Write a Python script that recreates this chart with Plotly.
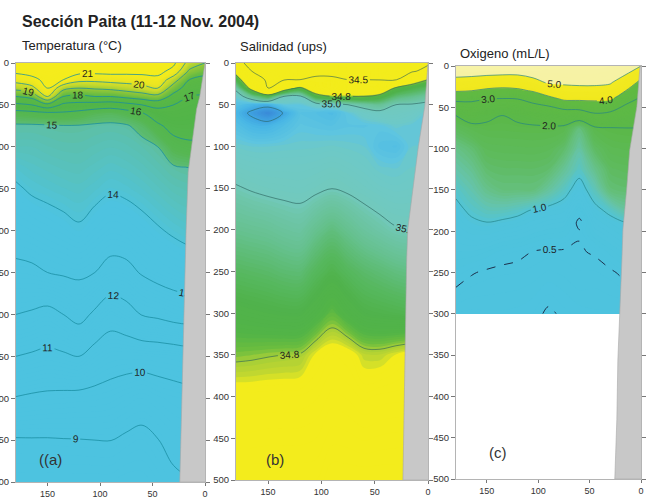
import numpy as np
import plotly.graph_objects as go

# ---------------- data ----------------
stations_km = [180, 165, 150, 135, 120, 105, 90, 75, 60, 45, 30, 15, 0]
depths_m = [0, 10, 20, 30, 40, 50, 60, 75, 100, 125, 150, 200, 250, 300, 350, 400, 450, 500]
oxy_depths_m = [0, 10, 20, 30, 40, 50, 60, 75, 100, 125, 150, 175, 190, 200, 225, 250, 275, 300]

# temperature (deg C), one profile per station (values at depths_m)
temp_profiles = [
    [22.0, 21.2, 20.4, 19.3, 18.0, 16.8, 15.6, 14.9, 14.6, 14.2, 13.9, 13.4, 12.8, 12.0, 11.0, 9.96, 8.94, 8.5],
    [22.0, 21.4, 20.7, 19.7, 18.3, 17.0, 15.7, 14.9, 14.6, 14.35, 14.1, 13.5, 12.85, 11.9, 10.9, 9.88, 8.95, 8.5],
    [22.0, 21.7, 21.3, 21.0, 20.0, 17.7, 15.8, 14.93, 14.69, 14.44, 14.2, 13.63, 13.0, 11.75, 10.8, 9.83, 8.95, 8.5],
    [22.0, 21.5, 21.0, 19.3, 18.0, 16.8, 15.86, 14.97, 14.75, 14.52, 14.29, 13.76, 13.09, 12.0, 10.88, 9.8, 8.97, 8.5],
    [22.0, 21.33, 20.29, 19.0, 17.78, 16.67, 15.71, 14.96, 14.76, 14.56, 14.35, 13.91, 13.15, 12.3, 11.0, 9.76, 8.98, 8.5],
    [22.0, 21.29, 20.25, 19.11, 18.0, 16.57, 15.45, 14.91, 14.68, 14.45, 14.23, 13.67, 13.0, 11.86, 10.62, 9.74, 9.0, 8.5],
    [22.0, 21.33, 20.38, 19.22, 18.0, 16.43, 15.36, 14.88, 14.61, 14.34, 14.08, 13.46, 12.71, 11.4, 10.4, 9.67, 9.01, 8.5],
    [22.0, 21.29, 20.45, 19.44, 18.25, 16.67, 15.57, 14.93, 14.67, 14.42, 14.16, 13.53, 12.76, 11.65, 10.36, 9.52, 8.88, 8.4],
    [22.0, 21.29, 20.54, 19.67, 18.5, 17.0, 15.91, 15.23, 14.8, 14.55, 14.3, 13.73, 13.07, 12.04, 10.38, 9.38, 8.79, 8.4],
    [21.8, 21.3, 20.71, 20.0, 18.71, 17.29, 16.56, 15.83, 15.0, 14.73, 14.47, 13.93, 13.31, 12.17, 10.41, 9.55, 8.98, 8.6],
    [21.2, 20.67, 19.45, 18.5, 17.67, 17.0, 16.74, 16.34, 15.6, 14.92, 14.65, 14.1, 13.47, 12.36, 10.46, 9.67, 9.23, 8.85],
    [19.6, 18.83, 18.0, 17.5, 17.0, 16.82, 16.64, 16.36, 15.83, 15.0, 14.74, 14.23, 13.58, 12.45, 10.57, 9.73, 9.33, 8.95],
    [19.0, 18.3, 17.7, 17.3, 16.9, 16.7, 16.55, 16.3, 15.85, 15.1, 14.76, 14.25, 13.6, 12.45, 10.57, 9.73, 9.35, 8.96],
]

# salinity (ups), one profile per station (values at depths_m)
sal_profiles = [
    [34.6, 34.743, 34.875, 34.98, 35.04, 35.063, 35.08, 35.065, 35.041, 35.019, 34.996, 34.95, 34.9, 34.85, 34.807, 34.766, 34.753, 34.74],
    [34.4, 34.5, 34.625, 34.75, 34.95, 35.081, 35.108, 35.082, 35.045, 35.025, 35.004, 34.955, 34.905, 34.855, 34.805, 34.766, 34.753, 34.74],
    [34.4, 34.433, 34.467, 34.5, 34.867, 35.088, 35.13, 35.085, 35.045, 35.028, 35.01, 34.96, 34.91, 34.86, 34.802, 34.765, 34.752, 34.74],
    [34.4, 34.445, 34.49, 34.718, 35.0, 35.05, 35.097, 35.07, 35.043, 35.028, 35.013, 34.969, 34.918, 34.864, 34.8, 34.765, 34.752, 34.74],
    [34.4, 34.45, 34.5, 34.825, 35.014, 35.05, 35.06, 35.054, 35.042, 35.028, 35.015, 34.974, 34.921, 34.864, 34.798, 34.764, 34.752, 34.74],
    [34.4, 34.456, 34.53, 34.68, 34.85, 35.033, 35.065, 35.057, 35.041, 35.025, 35.009, 34.95, 34.895, 34.844, 34.777, 34.761, 34.75, 34.74],
    [34.4, 34.456, 34.527, 34.664, 34.8, 35.025, 35.072, 35.06, 35.039, 35.02, 35.001, 34.931, 34.875, 34.819, 34.765, 34.753, 34.742, 34.73],
    [34.4, 34.45, 34.5, 34.65, 34.8, 35.0, 35.05, 35.056, 35.042, 35.026, 35.008, 34.95, 34.895, 34.843, 34.769, 34.756, 34.743, 34.73],
    [34.4, 34.45, 34.5, 34.65, 34.8, 34.975, 35.031, 35.056, 35.045, 35.034, 35.018, 34.97, 34.911, 34.864, 34.788, 34.762, 34.746, 34.73],
    [34.4, 34.448, 34.495, 34.659, 34.84, 34.958, 35.017, 35.052, 35.062, 35.044, 35.028, 34.984, 34.922, 34.87, 34.789, 34.758, 34.744, 34.73],
    [34.4, 34.445, 34.49, 34.82, 34.917, 35.0, 35.017, 35.042, 35.066, 35.046, 35.033, 34.997, 34.933, 34.875, 34.779, 34.757, 34.743, 34.73],
    [34.45, 34.483, 34.714, 34.867, 34.943, 35.005, 35.027, 35.048, 35.045, 35.04, 35.03, 35.001, 34.939, 34.88, 34.77, 34.757, 34.743, 34.73],
    [34.48, 34.55, 34.8, 34.9, 34.967, 35.017, 35.048, 35.048, 35.045, 35.04, 35.028, 35.001, 34.939, 34.88, 34.77, 34.757, 34.743, 34.73],
]

# dissolved oxygen (mL/L), one profile per station (values at oxy_depths_m)
oxy_profiles = [
    [5.4, 5.15, 4.733, 4.067, 3.182, 2.556, 2.0, 1.75, 1.426, 1.243, 1.059, 0.923, 0.855, 0.809, 0.695, 0.582, 0.467, 0.35],
    [5.5, 5.143, 4.625, 4.0, 3.167, 2.652, 2.217, 1.875, 1.563, 1.372, 1.212, 1.051, 0.949, 0.877, 0.696, 0.514, 0.42, 0.33],
    [5.5, 5.083, 4.5, 3.833, 3.0, 2.545, 2.091, 1.917, 1.756, 1.596, 1.398, 1.143, 0.99, 0.892, 0.647, 0.473, 0.407, 0.34],
    [5.5, 5.045, 4.438, 3.75, 2.952, 2.476, 2.0, 1.917, 1.778, 1.639, 1.5, 1.143, 0.947, 0.84, 0.574, 0.458, 0.399, 0.34],
    [5.5, 5.045, 4.471, 3.833, 3.0, 2.545, 2.091, 1.926, 1.784, 1.642, 1.5, 1.083, 0.898, 0.796, 0.541, 0.45, 0.39, 0.33],
    [5.4, 5.165, 4.786, 4.071, 3.308, 2.7, 2.2, 1.936, 1.791, 1.645, 1.5, 0.971, 0.824, 0.725, 0.495, 0.43, 0.365, 0.30],
    [5.3, 5.185, 5.069, 4.6, 3.667, 2.882, 2.294, 1.933, 1.767, 1.6, 1.308, 0.913, 0.769, 0.673, 0.476, 0.391, 0.305, 0.22],
    [5.3, 5.189, 5.078, 4.8, 4.133, 3.2, 2.429, 1.898, 1.614, 1.35, 1.1, 0.868, 0.737, 0.649, 0.479, 0.413, 0.346, 0.28],
    [5.3, 5.193, 5.086, 4.857, 4.143, 3.286, 2.333, 1.5, 1.278, 1.103, 0.87, 0.6, 0.44, 0.513, 0.486, 0.446, 0.392, 0.32],
    [5.3, 5.193, 5.086, 4.857, 4.143, 3.5, 2.8, 1.926, 1.66, 1.4, 1.15, 0.919, 0.798, 0.718, 0.516, 0.445, 0.385, 0.34],
    [5.25, 5.154, 5.058, 4.733, 4.067, 3.357, 2.706, 1.982, 1.831, 1.681, 1.53, 1.065, 0.903, 0.823, 0.621, 0.473, 0.407, 0.34],
    [5.1, 5.029, 4.625, 4.0, 3.333, 2.833, 2.5, 2.0, 1.861, 1.722, 1.583, 1.283, 0.985, 0.912, 0.728, 0.544, 0.431, 0.34],
    [5.0, 4.333, 3.75, 3.25, 2.875, 2.625, 2.375, 2.0, 1.861, 1.722, 1.583, 1.3, 1.0, 0.929, 0.75, 0.571, 0.44, 0.34],
]

# continental slope / bottom outline for each panel (km from coast, depth m)
bottom_a_km = [0, 2, 5, 8, 12.5, 16, 18, 19, 20.5, 22, 24, 0]
bottom_a_m = [0, 15, 40, 55, 100, 130, 200, 250, 350, 420, 500, 500]
bottom_b_km = [0, 3, 9, 12, 19, 20, 21.5, 23.5, 0]
bottom_b_m = [0, 52, 100, 132, 200, 236, 350, 500, 500]
bottom_c_km = [0, 1, 4, 11, 14, 17.6, 18.6, 22.5, 23.5, 25.5, 0]
bottom_c_m = [0, 1, 49, 102, 150, 198, 236, 356, 428, 500, 500]

title_text = "Sección Paita (11-12 Nov. 2004)"
panel_titles = ["Temperatura (°C)", "Salinidad (ups)", "Oxigeno (mL/L)"]
panel_letters = ["((a)", "(b)", "(c)"]
y_ticks = [0, 50, 100, 150, 200, 250, 300, 350, 400, 450, 500]
x_ticks = [150, 100, 50, 0]

# ---------------- styling ----------------
W, H = 653, 497
FONT = "Liberation Sans, Arial, sans-serif"


def fx(px):
    return px / W


def fy(py):
    return 1 - py / H


def stepped_scale(stops, start, end, size):
    nc = int(np.floor((end - start) / size + 1e-9)) + 1
    lo = start - size / 2
    hi = start + (nc - 0.5) * size
    out = []
    for v, c in stops:
        s = min(1.0, max(0.0, (v - lo) / (hi - lo)))
        out.append([s, c])
    out[0][0] = 0.0
    out[-1][0] = 1.0
    return out


T_FILL = dict(start=8, end=22, size=0.1)
S_FILL = dict(start=34.3, end=35.2, size=0.005)
O_FILL = dict(start=0, end=6, size=0.05)

temp_stops = [
    (7.9, "#4dc3e0"), (13.9, "#4dc3e0"), (14.05, "#50c3d6"), (14.4, "#56c2c3"),
    (14.8, "#5bc0ae"), (14.98, "#5ebfa0"), (15.02, "#5cbb74"), (15.5, "#56b752"),
    (16.5, "#52b548"), (18.0, "#5bb846"), (18.8, "#8cc63a"), (19.5, "#c2d82e"),
    (20.3, "#ebe622"), (21.0, "#f4ec1c"), (22.1, "#f5ec1c"),
]
sal_stops = [
    (34.29, "#f3ec1c"), (34.778, "#f3ec1c"), (34.785, "#c5d92e"), (34.80, "#a5ce38"),
    (34.81, "#6dbe3e"), (34.83, "#52b447"), (34.87, "#50b24c"), (34.90, "#57b860"),
    (34.95, "#66c190"), (34.99, "#6ec6ac"), (35.00, "#72c9bc"), (35.04, "#6dc9c8"),
    (35.052, "#5ec5e0"), (35.08, "#4ab8e6"), (35.10, "#3fa5e2"), (35.13, "#3a8ad8"),
    (35.21, "#3570cc"),
]
oxy_stops = [
    (-0.1, "#4dc3e0"), (0.95, "#4fc3dc"), (1.05, "#56c4cc"), (1.25, "#66c4a8"),
    (1.45, "#66c084"), (1.7, "#5ebb5e"), (2.0, "#5bb848"), (3.95, "#62ba42"),
    (4.0, "#f0e81e"), (4.99, "#f2ea22"), (5.0, "#f6f2a2"), (6.1, "#f8f4b0"),
]

fig = go.Figure()

panels = [
    dict(x0=16, x1=205, y0=63, y1=482),
    dict(x0=236, x1=428, y0=63, y1=480),
    dict(x0=456, x1=641, y0=66, y1=479),
]


def add_fill(z, y, fillcfg, stops, ax):
    fig.add_trace(go.Contour(
        x=stations_km, y=y, z=z, xaxis="x" + ax, yaxis="y" + ax,
        colorscale=stepped_scale(stops, **fillcfg), showscale=False,
        contours=dict(coloring="fill", showlines=False, **fillcfg),
        line=dict(width=0, smoothing=1), hoverinfo="skip",
    ))


def add_lines(z, y, start, end, size, ax, color, fmt, dash="solid", labels=True, width=0.9):
    fig.add_trace(go.Contour(
        x=stations_km, y=y, z=z, xaxis="x" + ax, yaxis="y" + ax,
        showscale=False, hoverinfo="skip",
        contours=dict(coloring="none", start=start, end=end, size=size,
                      showlabels=labels, labelformat=fmt,
                      labelfont=dict(family=FONT, size=10, color="#1e1e1e")),
        line=dict(color=color, width=width, smoothing=1, dash=dash),
    ))


def add_bottom(kms, ms, ax):
    fig.add_trace(go.Scatter(
        x=kms, y=ms, xaxis="x" + ax, yaxis="y" + ax, mode="lines",
        fill="toself", fillcolor="#c8c8c8", line=dict(color="#a8a8a8", width=0.6),
        hoverinfo="skip", showlegend=False,
    ))


T = np.array(temp_profiles).T
S = np.array(sal_profiles).T
O = np.array(oxy_profiles).T

# panel a
add_fill(T, depths_m, T_FILL, temp_stops, "")
add_lines(T, depths_m, 9, 21, 1, "", "rgba(25,140,160,0.85)", ".0f")
add_bottom(bottom_a_km, bottom_a_m, "")

# panel b
add_fill(S, depths_m, S_FILL, sal_stops, "2")
for lev in [34.5, 34.8, 35.0, 35.1]:
    add_lines(S, depths_m, lev, lev, 0.1, "2", "rgba(40,95,90,0.85)", ".1f", width=0.7)
add_bottom(bottom_b_km, bottom_b_m, "2")

# panel c
add_fill(O, oxy_depths_m, O_FILL, oxy_stops, "3")
add_lines(O, oxy_depths_m, 1, 5, 1, "3", "rgba(35,130,135,0.85)", ".1f", width=0.8)
add_lines(O, oxy_depths_m, 0.5, 0.5, 0.1, "3", "#1c2f4a", ".1f", dash="dash", width=1.0)
add_lines(O, oxy_depths_m, 0.25, 0.25, 0.1, "3", "#1c2f4a", ".2f", dash="dash", labels=False, width=1.0)
add_bottom(bottom_c_km, bottom_c_m, "3")

layout = dict(
    width=W, height=H, margin=dict(l=0, r=0, t=0, b=0),
    paper_bgcolor="white", plot_bgcolor="white", showlegend=False,
    font=dict(family=FONT, size=10, color="#333"),
)
for i, p in enumerate(panels):
    sfx = "" if i == 0 else str(i + 1)
    layout["xaxis" + sfx] = dict(
        domain=[fx(p["x0"]), fx(p["x1"])], range=[180, 0], anchor="y" + sfx,
        tickvals=x_ticks, ticks="outside", ticklen=3, tickcolor="#777",
        showline=True, linecolor="#b4b4b4", linewidth=1, mirror=True,
        showgrid=False, zeroline=False, automargin=False,
        tickfont=dict(family=FONT, size=9, color="#333"),
    )
    layout["yaxis" + sfx] = dict(
        domain=[fy(p["y1"]), fy(p["y0"])], range=[500, 0], anchor="x" + sfx,
        tickvals=y_ticks, ticks="outside", ticklen=4, tickcolor="#777",
        showline=True, linecolor="#b4b4b4", linewidth=1, mirror="ticks",
        showgrid=False, zeroline=False, automargin=False,
        tickfont=dict(family=FONT, size=9.5, color="#333"),
    )

annotations = [
    dict(text="<b>" + title_text + "</b>", x=fx(20), y=fy(22), xanchor="left", yanchor="middle",
         font=dict(family=FONT, size=16, color="#222")),
    dict(text=panel_titles[0], x=fx(20), y=fy(46), xanchor="left", yanchor="middle",
         font=dict(family=FONT, size=13, color="#222")),
    dict(text=panel_titles[1], x=fx(238), y=fy(47), xanchor="left", yanchor="middle",
         font=dict(family=FONT, size=13, color="#222")),
    dict(text=panel_titles[2], x=fx(458), y=fy(53), xanchor="left", yanchor="middle",
         font=dict(family=FONT, size=13, color="#222")),
    dict(text=panel_letters[0], x=fx(37), y=fy(459), xanchor="left", yanchor="middle",
         font=dict(family=FONT, size=15, color="#333")),
    dict(text=panel_letters[1], x=fx(264), y=fy(459), xanchor="left", yanchor="middle",
         font=dict(family=FONT, size=15, color="#333")),
    dict(text=panel_letters[2], x=fx(487), y=fy(452), xanchor="left", yanchor="middle",
         font=dict(family=FONT, size=15, color="#333")),
]
for a in annotations:
    a.update(xref="paper", yref="paper", showarrow=False)
layout["annotations"] = annotations

fig.update_layout(**layout)
fig.write_html(
    "out.html",
    config={"displayModeBar": False},
    post_script="document.body.style.margin='0';document.body.style.overflow='hidden';",
)
